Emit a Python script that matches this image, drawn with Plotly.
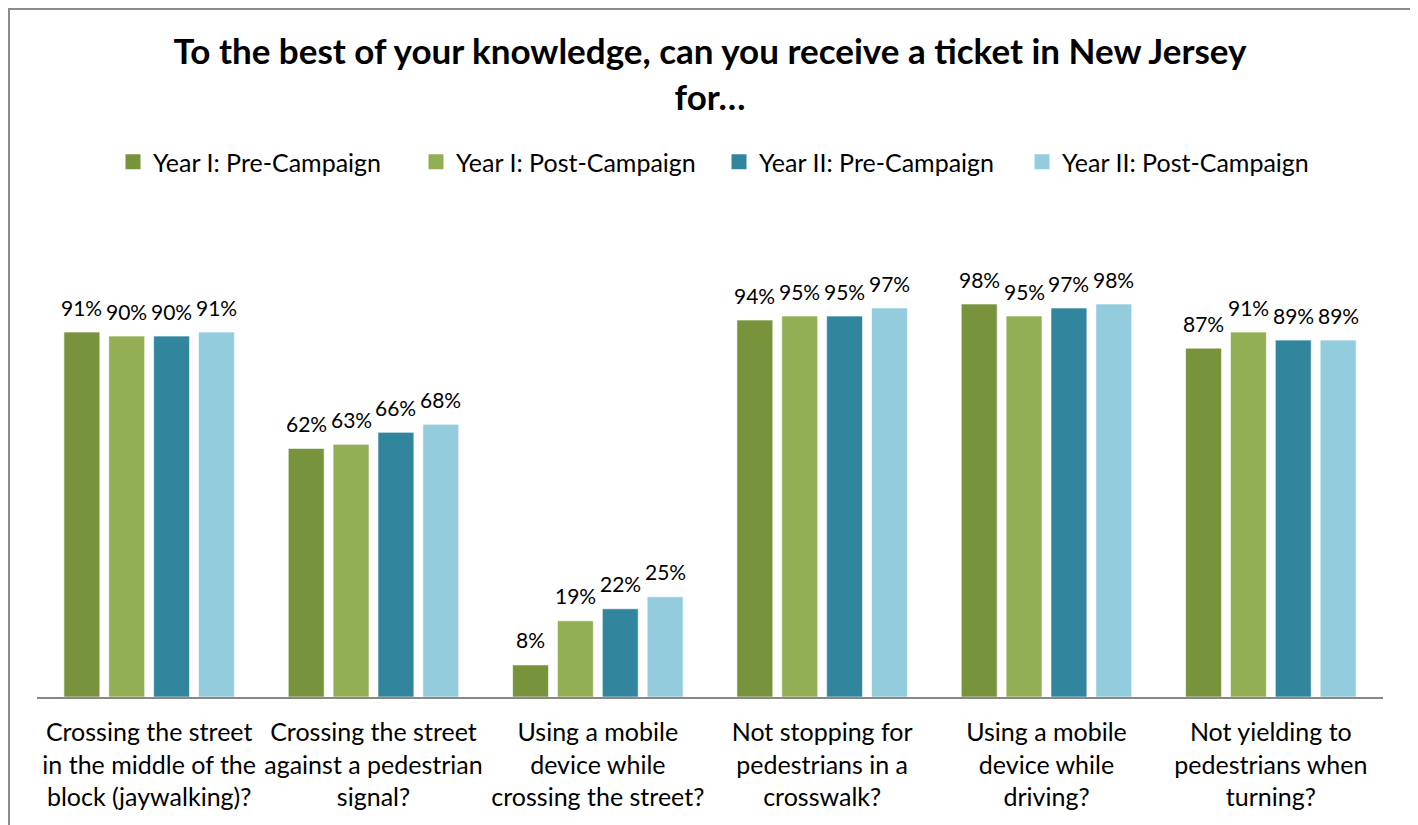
import plotly.graph_objects as go

categories = [
    "Crossing the street<br>in the middle of the<br>block (jaywalking)?",
    "Crossing the street<br>against a pedestrian<br>signal?",
    "Using a mobile<br>device while<br>crossing the street?",
    "Not stopping for<br>pedestrians in a<br>crosswalk?",
    "Using a mobile<br>device while<br>driving?",
    "Not yielding to<br>pedestrians when<br>turning?",
]
series_names = ["Year I: Pre-Campaign", "Year I: Post-Campaign",
                "Year II: Pre-Campaign", "Year II: Post-Campaign"]
y1_pre = [91, 62, 8, 94, 98, 87]
y1_post = [90, 63, 19, 95, 95, 91]
y2_pre = [90, 66, 22, 95, 97, 89]
y2_post = [91, 68, 25, 97, 98, 89]
colors = ["#77933C", "#93AF56", "#31859C", "#93CDDD"]

FONT = "Lato"
W, H = 1418, 825
# page has an 8px body margin; layout coords are relative to the figure
L, R, T, B = 29, 43, 288, 136
BARGAP, GROUPGAP = 0.2, 0.2

pw = W - L - R
ph = H - T - B
all_series = [y1_pre, y1_post, y2_pre, y2_post]
n = len(all_series)
slot = pw / len(categories) * (1 - BARGAP) / n

fig = go.Figure()
for name, vals, col in zip(series_names, all_series, colors):
    fig.add_trace(go.Bar(
        name=name, x=categories, y=vals, showlegend=False,
        marker=dict(color=col, line=dict(color="rgba(255,255,255,0.6)", width=1)),
        hoverinfo="x+y",
    ))
# legend entries with square swatches
for name, col in zip(series_names, colors):
    fig.add_trace(go.Scatter(
        name=name, x=[None], y=[None], mode="markers",
        marker=dict(symbol="square", size=15, color=col),
        showlegend=True,
    ))

annotations = []
for i, vals in enumerate(all_series):
    for cat, v in zip(categories, vals):
        annotations.append(dict(
            x=cat, y=v, xref="x", yref="y", text=f"{v}%", showarrow=False,
            xshift=(i - (n - 1) / 2) * slot, yshift=25, yanchor="middle",
            font=dict(family=FONT, size=21, color="#000"),
        ))

fig.update_layout(
    width=W, height=H,
    margin=dict(l=L, r=R, t=T, b=B, pad=0),
    paper_bgcolor="white", plot_bgcolor="white",
    barmode="group", bargap=BARGAP, bargroupgap=GROUPGAP,
    font=dict(family=FONT, color="#000"),
    title=dict(
        text="To the best of your knowledge, can you receive a ticket in New Jersey<br>for…",
        x=(710 - 8) / W, xanchor="center", y=1 - 56 / H, yanchor="top",
        font=dict(family=FONT, size=35, color="#000", weight="bold"),
    ),
    legend=dict(
        orientation="h", x=(719 - 8 - L) / pw, xanchor="center", y=(689 - 154) / ph, yref="paper",
        yanchor="middle", font=dict(family=FONT, size=25, color="#000"),
        entrywidth=258, entrywidthmode="pixels", traceorder="normal",
        itemclick=False, itemwidth=30,
    ),
    xaxis=dict(
        showline=True, linecolor="#888888", linewidth=2, ticks="",
        tickfont=dict(family=FONT, size=25, color="#000"),
        ticklabelstandoff=12,
        showgrid=False,
    ),
    yaxis=dict(range=[0, 100], visible=False, showgrid=False),
    annotations=annotations,
    showlegend=True,
)
fig.add_shape(
    type="rect", xref="paper", yref="paper",
    x0=(1 - L) / pw, x1=(1405 - L) / pw,
    y0=-0.6, y1=(689 - 1) / ph,
    line=dict(color="#8c8c8c", width=2), fillcolor="rgba(0,0,0,0)", layer="below",
)
fig.write_html("out.html")
